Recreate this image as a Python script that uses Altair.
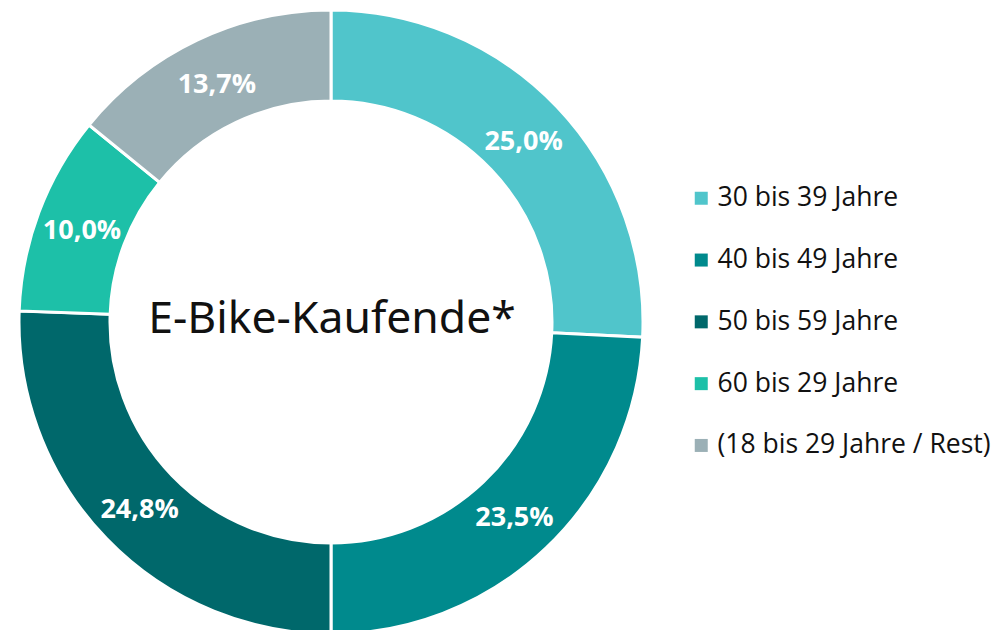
import altair as alt
import pandas as pd

categories = ["30 bis 39 Jahre", "40 bis 49 Jahre", "50 bis 59 Jahre", "60 bis 29 Jahre", "(18 bis 29 Jahre / Rest)"]
values = [25.0, 23.5, 24.8, 10.0, 13.7]
labels = ["25,0%", "23,5%", "24,8%", "10,0%", "13,7%"]
colors = ["#50C5CB", "#008A8D", "#00686B", "#1DC0A8", "#9BB0B6"]
center_title = "E-Bike-Kaufende*"

df = pd.DataFrame({"cat": categories, "val": values, "label": labels, "idx": list(range(len(categories)))})

CX, CY = 331, 322

base = alt.Chart(df).encode(
    theta=alt.Theta("val:Q", stack=True),
    order=alt.Order("idx:Q"),
)

arcs = base.mark_arc(innerRadius=221, outerRadius=312, stroke="white", strokeWidth=3).encode(
    x=alt.value(CX),
    y=alt.value(CY),
    color=alt.Color(
        "cat:N",
        scale=alt.Scale(domain=categories, range=colors),
        sort=categories,
        legend=alt.Legend(
            title=None,
            orient="none",
            legendX=688,
            legendY=185,
            symbolType="square",
            symbolSize=169,
            symbolStrokeWidth=0,
            labelFont="Open Sans",
            labelFontSize=26.5,
            labelColor="#111111",
            labelOffset=3,
            rowPadding=34.8,
            labelLimit=400,
        ),
    ),
)

texts = base.mark_text(radius=266, font="Open Sans", fontWeight="bold", fontSize=27, color="white").encode(
    x=alt.value(CX),
    y=alt.value(CY + 3),
    text="label:N",
)

title_df = pd.DataFrame({"t": [center_title]})
center = alt.Chart(title_df).mark_text(font="Noto Sans", fontSize=44.5, color="#111111", baseline="middle", align="center").encode(
    x=alt.value(CX + 1),
    y=alt.value(CY - 2),
    text="t:N",
)

chart = alt.layer(arcs, texts, center).properties(
    width=1004, height=630, padding=0, autosize=alt.AutoSizeParams(type="none")
).configure_view(strokeWidth=0)

chart.save("out.html", embed_options={"renderer": "svg", "actions": False})
